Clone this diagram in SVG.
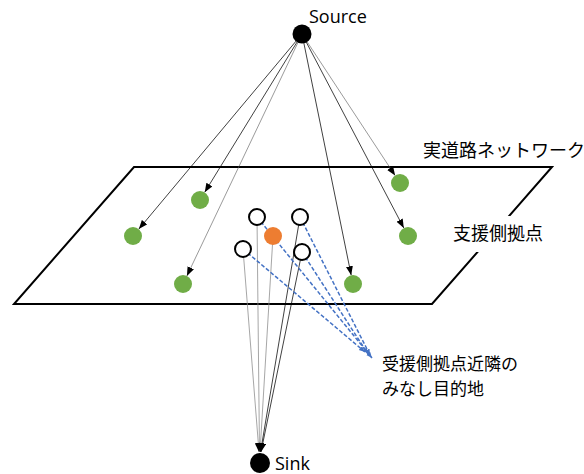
<svg xmlns="http://www.w3.org/2000/svg" width="584" height="474" viewBox="0 0 584 474">
<style>
.lbl{font-family:"Open Sans","Liberation Sans",sans-serif;font-size:18px;fill:#000}
.jp{font-family:"Noto Sans CJK JP",sans-serif;font-size:18px;fill:#000}
.jp2{font-family:"Noto Sans CJK JP",sans-serif;font-size:17px;fill:#000}
.src{stroke:#000;stroke-width:0.75;fill:none;marker-end:url(#ah)}
.srcg{stroke:#555;stroke-width:0.6;fill:none;marker-end:url(#ah)}
.snk{stroke:#000;stroke-width:0.75;fill:none;marker-end:url(#ah)}
.snkg{stroke:#888;stroke-width:0.75;fill:none;marker-end:url(#ah)}
.dash{stroke:#4472C4;stroke-width:1.5;stroke-dasharray:4 2;fill:none;marker-end:url(#bh)}
.green{fill:#70AD47}
.white{fill:#fff;stroke:#000;stroke-width:2}
</style>
<defs>
<marker id="ah" markerUnits="userSpaceOnUse" markerWidth="10" markerHeight="8" refX="9" refY="3.5" orient="auto"><path d="M0,0 L9,3.5 L0,7 z" fill="#000"/></marker>
<marker id="bh" markerUnits="userSpaceOnUse" markerWidth="7" markerHeight="6" refX="6" refY="2.5" orient="auto"><path d="M0,0 L6,2.5 L0,5 z" fill="#4472C4"/></marker>
</defs>
<g id="network">
<polygon points="134,167 552,167 432,304 14,304" fill="none" stroke="#000" stroke-width="2"/>
</g>
<g id="connectors">
<line class="src" x1="302" y1="34" x2="138.8" y2="229.1"/>
<line class="src" x1="302" y1="34" x2="204.7" y2="192.3"/>
<line class="srcg" x1="302" y1="34" x2="186.9" y2="275.9"/>
<line class="src" x1="302" y1="34" x2="351.2" y2="275.2"/>
<line class="srcg" x1="302" y1="34" x2="395.1" y2="175.5"/>
<line class="src" x1="302" y1="34" x2="403.8" y2="228"/>
<line class="snkg" x1="243" y1="249" x2="259" y2="452"/>
<line class="snkg" x1="257" y1="217" x2="259.5" y2="452"/>
<line class="snkg" x1="273" y1="236" x2="260" y2="452"/>
<line class="snk" x1="300" y1="217" x2="260.5" y2="452"/>
<line class="snk" x1="302" y1="252" x2="261" y2="452"/>
<line class="dash" x1="243" y1="249" x2="365" y2="352"/>
<line class="dash" x1="257" y1="217" x2="372" y2="358"/>
<line class="dash" x1="300" y1="217" x2="370" y2="355"/>
<line class="dash" x1="302" y1="252" x2="368" y2="354"/>
</g>
<g id="source"><circle cx="302" cy="34" r="9.5" fill="#000"/><text class="lbl" x="309" y="23">Source</text></g>
<g id="sink"><circle cx="260" cy="463" r="10" fill="#000"/><text class="lbl" x="275" y="470">Sink</text></g>
<g id="g1"><circle class="green" cx="133" cy="236" r="9"/></g>
<g id="g2"><circle class="green" cx="200" cy="200" r="9"/></g>
<g id="g3"><circle class="green" cx="183" cy="284" r="9"/></g>
<g id="g4"><circle class="green" cx="353" cy="284" r="9"/></g>
<g id="g5"><circle class="green" cx="400" cy="183" r="9"/></g>
<g id="g6"><circle class="green" cx="408" cy="236" r="9"/></g>
<g id="w1"><circle class="white" cx="257" cy="217" r="8"/></g>
<g id="w2"><circle class="white" cx="300" cy="217" r="8"/></g>
<g id="w3"><circle class="white" cx="243" cy="249" r="8"/></g>
<g id="w4"><circle class="white" cx="302" cy="252" r="8"/></g>
<g id="orange"><circle cx="273" cy="236" r="9" fill="#ED7D31"/></g>
<g id="label-network"><text class="jp" x="423" y="157">実道路ネットワーク</text></g>
<g id="label-support"><rect x="448" y="216" width="104" height="36" fill="#fff"/><text class="jp" x="453" y="240">支援側拠点</text></g>
<g id="label-dest"><text class="jp2" x="382" y="370"><tspan x="382">受援側拠点近隣の</tspan><tspan x="382" dy="25">みなし目的地</tspan></text></g>
</svg>
